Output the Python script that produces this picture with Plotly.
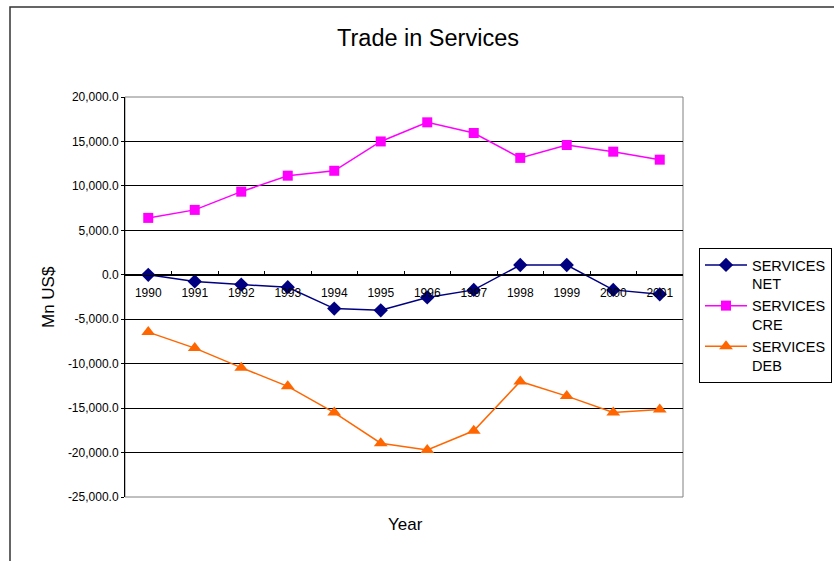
import plotly.graph_objects as go

years = ["1990", "1991", "1992", "1993", "1994", "1995", "1996", "1997", "1998", "1999", "2000", "2001"]
services_net = [0, -750, -1100, -1400, -3800, -4000, -2550, -1700, 1100, 1100, -1700, -2200]
services_cre = [6400, 7300, 9350, 11150, 11700, 15000, 17150, 15950, 13150, 14600, 13850, 12950]
services_deb = [-6450, -8250, -10450, -12550, -15500, -18950, -19700, -17550, -12000, -13650, -15500, -15150]

ytick_vals = [20000, 15000, 10000, 5000, 0, -5000, -10000, -15000, -20000, -25000]
ytick_text = ["20,000.0", "15,000.0", "10,000.0", "5,000.0", "0.0", "-5,000.0",
              "-10,000.0", "-15,000.0", "-20,000.0", "-25,000.0"]

FONT = "Liberation Sans, Arial, sans-serif"

fig = go.Figure()
fig.add_trace(go.Scatter(x=years, y=services_net, name="SERVICES<br>NET", mode="lines+markers",
                         line=dict(color="#000080", width=1.5),
                         marker=dict(symbol="diamond", size=11, color="#000080")))
fig.add_trace(go.Scatter(x=years, y=services_cre, name="SERVICES<br>CRE", mode="lines+markers",
                         line=dict(color="#FF00FF", width=1.5),
                         marker=dict(symbol="square", size=10, color="#FF00FF")))
fig.add_trace(go.Scatter(x=years, y=services_deb, name="SERVICES<br>DEB", mode="lines+markers",
                         line=dict(color="#FF6600", width=1.5),
                         marker=dict(symbol="triangle-up", size=12, color="#FF6600")))

W, H = 834, 561
L, R, T, B = 125, 683, 97, 497

def px(xp):
    return (xp - L) / (R - L)

def py(yp):
    return (B - yp) / (B - T)

fig.update_layout(
    width=W, height=H,
    margin=dict(l=L, r=W - R, t=T, b=H - B, autoexpand=False),
    paper_bgcolor="white", plot_bgcolor="white",
    font=dict(family=FONT, color="black"),
    title=dict(text="Trade in Services", x=428 / W, xref="container", xanchor="center",
               y=1 - 38 / H, yref="container", yanchor="middle",
               font=dict(size=23.5, family=FONT, color="black")),
    showlegend=True,
    legend=dict(x=px(699), y=py(248), xanchor="left", yanchor="top",
                bordercolor="black", borderwidth=1, bgcolor="white",
                font=dict(size=14.5, family=FONT, color="black"),
                valign="top", itemwidth=42, tracegroupgap=0),
    xaxis=dict(type="category", range=[-0.5, 11.5], anchor="free",
               position=25000 / 45000, showline=True, linecolor="black", linewidth=1,
               ticks="inside", tickson="boundaries", ticklen=4, tickcolor="black",
               ticklabelstandoff=7,
               tickfont=dict(size=12, family=FONT, color="black"),
               showgrid=False, zeroline=False, fixedrange=True),
    yaxis=dict(range=[-25000, 20000], tickvals=ytick_vals, ticktext=ytick_text,
               showline=True, linecolor="black", linewidth=1, ticks="outside",
               ticklen=3, tickcolor="black",
               tickfont=dict(size=12, family=FONT, color="black"),
               showgrid=True, gridcolor="black", gridwidth=1, zeroline=False),
    annotations=[
        dict(text="Mn US$", x=px(48), y=py(297), xref="paper", yref="paper",
             xanchor="center", yanchor="middle",
             textangle=-90, showarrow=False, font=dict(size=17, family=FONT, color="black")),
        dict(text="Year", x=px(405), y=py(524), xref="paper", yref="paper",
             xanchor="center", yanchor="middle",
             showarrow=False, font=dict(size=17, family=FONT, color="black")),
    ],
    shapes=[
        dict(type="rect", xref="paper", yref="paper", x0=0, x1=1, y0=0, y1=1,
             line=dict(color="#808080", width=1), layer="below"),
        dict(type="rect", xref="paper", yref="paper", x0=px(10), x1=px(900),
             y0=py(620), y1=py(7), line=dict(color="#333333", width=1.5)),
    ],
)

fig.write_html("out.html")
